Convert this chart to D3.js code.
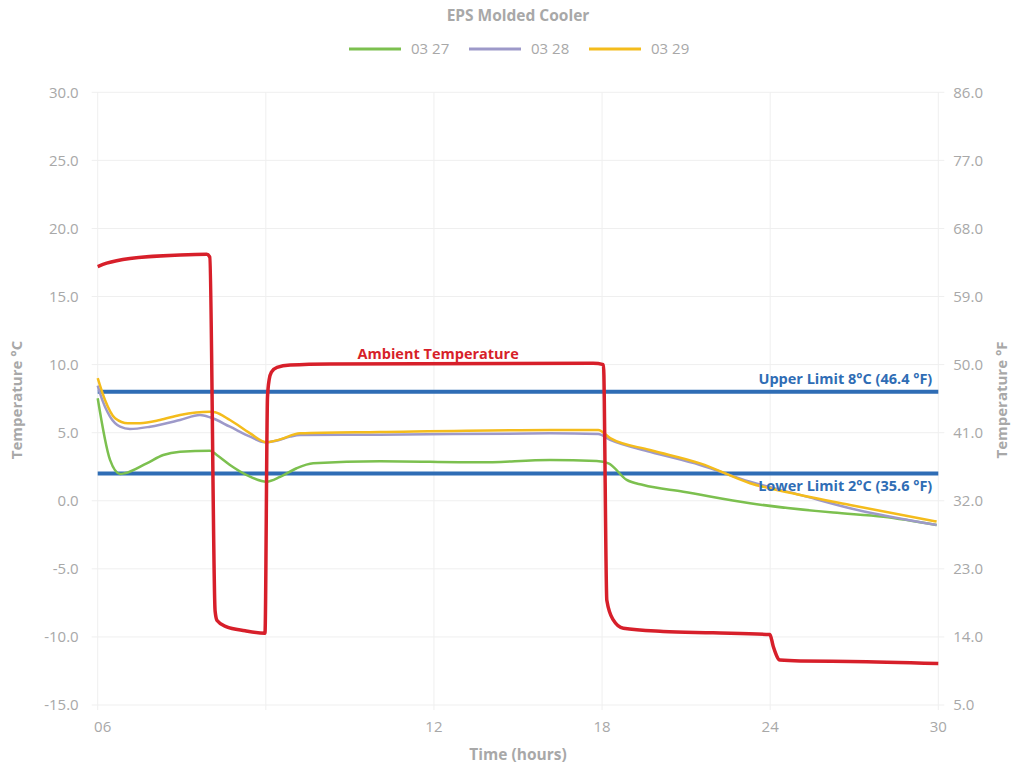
<!DOCTYPE html>
<html>
<head>
<meta charset="utf-8">
<script src="https://cdn.jsdelivr.net/npm/d3@7"></script>
<style>
  body { margin: 0; background: #fff; }
  svg text { font-family: "Open Sans", Lato, sans-serif; }
</style>
</head>
<body>
<div id="chart"></div>
<script>
// chart data: [hour offset, °C]
var seriesNames = ["03 27", "03 28", "03 29"];
var seriesColors = ["#7cc04f", "#9d99c9", "#f4bc1c"];

var day27 = [[0,7.53],[0.44,3.0],[0.80,1.97],[0.97,2.02],[1.75,2.75],[2.34,3.36],[2.94,3.6],[4.01,3.68],[4.25,3.36],[4.72,2.63],[5.32,1.89],[6.03,1.40],[6.51,1.75],[7.10,2.39],[7.69,2.75],[10.07,2.9],[13.64,2.82],[16.14,3.0],[17.81,2.92],[18.23,2.75],[18.88,1.53],[19.47,1.16],[20.90,0.67],[23.28,-0.18],[26.25,-0.87],[28.04,-1.17],[29.94,-1.78]];
var day28 = [[0,8.45],[0.08,7.9],[0.44,6.18],[0.80,5.44],[1.15,5.27],[1.87,5.44],[2.94,5.93],[3.65,6.3],[4.01,6.13],[4.72,5.44],[5.44,4.71],[5.97,4.30],[6.33,4.39],[6.87,4.71],[7.22,4.83],[10.07,4.85],[16.14,4.95],[17.86,4.9],[18.29,4.47],[19.71,3.6],[21.50,2.63],[23.28,1.40],[25.07,0.43],[26.85,-0.55],[29.94,-1.78]];
var day29 = [[0,9.0],[0.26,7.4],[0.62,6.06],[1.08,5.69],[1.51,5.7],[2.22,5.93],[2.94,6.3],[4.01,6.54],[4.19,6.5],[4.72,5.93],[5.44,4.95],[6.03,4.30],[6.51,4.51],[7.22,4.95],[10.07,5.05],[16.14,5.2],[17.86,5.2],[18.29,4.6],[19.71,3.73],[21.50,2.75],[23.28,1.29],[25.07,0.43],[26.85,-0.31],[29.94,-1.53]];
var ambient = [[0,17.2],[0.32,17.45],[1.15,17.8],[2.94,18.05],[3.89,18.1],[4.0,17.9],[4.19,-8.1],[4.26,-8.8],[4.58,-9.25],[5.26,-9.55],[5.97,-9.73],[6.06,7.6],[6.12,8.9],[6.2,9.45],[6.4,9.8],[6.87,9.97],[8.29,10.05],[17.68,10.1],[18.05,10.0],[18.17,-7.3],[18.40,-8.75],[18.76,-9.37],[20.18,-9.6],[21.96,-9.7],[23.99,-9.83],[24.11,-10.7],[24.35,-11.7],[25.07,-11.77],[26.85,-11.8],[30,-11.95]];

var xTicks = [0, 6, 12, 18, 24, 30];
var xTickLabels = ["06", "", "12", "18", "24", "30"];
var yTicks = [30, 25, 20, 15, 10, 5, 0, -5, -10, -15];
var limits = [8, 2];
var limitLabels = ["Upper Limit 8°C (46.4 °F)", "Lower Limit 2°C (35.6 °F)"];

(function(){
  var W = 1011, H = 764;
  var margin = {top: 92.3, right: 72.7, bottom: 59, left: 97.7},
      width = W - margin.left - margin.right,
      height = H - margin.top - margin.bottom;
  var grey = "#a8a8a8";

  var svg = d3.select("#chart").append("svg")
    .attr("width", W).attr("height", H);

  var g = svg.append("g")
    .attr("transform", "translate(" + margin.left + "," + margin.top + ")");

  var x = d3.scaleLinear().domain([0, 30]).range([0, width]);
  var y = d3.scaleLinear().domain([-15, 30]).range([height, 0]);

  // gridlines
  g.selectAll(".hgrid").data(yTicks).enter().append("line")
    .attr("x1", -6).attr("x2", width + 6)
    .attr("y1", d => y(d)).attr("y2", d => y(d))
    .attr("stroke", "#efefef").attr("stroke-width", 1);
  g.selectAll(".vgrid").data(xTicks).enter().append("line")
    .attr("x1", d => x(d)).attr("x2", d => x(d))
    .attr("y1", 0).attr("y2", height + 5)
    .attr("stroke", "#efefef").attr("stroke-width", 1);

  // left axis labels
  g.selectAll(".ylab").data(yTicks).enter().append("text")
    .attr("x", -19).attr("y", d => y(d)).attr("dy", "0.35em")
    .attr("text-anchor", "end").attr("fill", grey).style("font-size", "15px")
    .text(d => d.toFixed(1));
  // right axis labels (°F)
  g.selectAll(".flab").data(yTicks).enter().append("text")
    .attr("x", width + 15).attr("y", d => y(d)).attr("dy", "0.35em")
    .attr("text-anchor", "start").attr("fill", grey).style("font-size", "15px")
    .text(d => (d * 1.8 + 32).toFixed(1));
  // x labels
  g.selectAll(".xlab").data(xTicks).enter().append("text")
    .attr("x", (d, i) => x(d) + (i === 0 ? 5 : 0)).attr("y", height + 27)
    .attr("text-anchor", "middle").attr("fill", grey).style("font-size", "15px")
    .text((d, i) => xTickLabels[i]);

  // limit lines
  g.selectAll(".limit").data(limits).enter().append("line")
    .attr("x1", 0).attr("x2", width)
    .attr("y1", d => y(d)).attr("y2", d => y(d))
    .attr("stroke", "#2f6db5").attr("stroke-width", 4);

  var line = d3.line()
    .x(d => x(d[0])).y(d => y(d[1]))
    .curve(d3.curveMonotoneX);

  [day27, day28, day29].forEach(function(s, i){
    g.append("path").datum(s)
      .attr("d", line).attr("fill", "none")
      .attr("stroke", seriesColors[i]).attr("stroke-width", 2.5);
  });

  g.append("path").datum(ambient)
    .attr("d", line).attr("fill", "none")
    .attr("stroke", "#d71f2a").attr("stroke-width", 3.5)
    .attr("stroke-linejoin", "round");

  // annotations
  g.selectAll(".limlab").data(limits).enter().append("text")
    .attr("x", width - 6)
    .attr("y", (d, i) => i === 0 ? y(d) - 8 : y(d) + 17)
    .attr("text-anchor", "end").attr("fill", "#2f6db5")
    .style("font-size", "14.5px").style("font-weight", "bold")
    .text((d, i) => limitLabels[i]);

  g.append("text")
    .attr("x", x(12.15)).attr("y", y(10) - 6)
    .attr("text-anchor", "middle").attr("fill", "#d71f2a")
    .style("font-size", "14.5px").style("font-weight", "bold")
    .text("Ambient Temperature");

  // titles
  svg.append("text").attr("x", 518).attr("y", 21)
    .attr("text-anchor", "middle").attr("fill", grey)
    .style("font-size", "15.5px").style("font-weight", "bold")
    .text("EPS Molded Cooler");
  svg.append("text").attr("x", 518).attr("y", 760)
    .attr("text-anchor", "middle").attr("fill", grey)
    .style("font-size", "15.5px").style("font-weight", "bold")
    .text("Time (hours)");
  svg.append("text")
    .attr("transform", "translate(22,400) rotate(-90)")
    .attr("text-anchor", "middle").attr("fill", grey)
    .style("font-size", "15px").style("font-weight", "bold")
    .text("Temperature °C");
  svg.append("text")
    .attr("transform", "translate(1007,400) rotate(-90)")
    .attr("text-anchor", "middle").attr("fill", grey)
    .style("font-size", "15px").style("font-weight", "bold")
    .text("Temperature °F");

  // legend
  var legend = svg.append("g").attr("transform", "translate(349,49)");
  seriesNames.forEach(function(name, i){
    var lg = legend.append("g").attr("transform", "translate(" + (i * 120) + ",0)");
    lg.append("line").attr("x1", 0).attr("x2", 52).attr("y1", 0).attr("y2", 0)
      .attr("stroke", seriesColors[i]).attr("stroke-width", 3);
    lg.append("text").attr("x", 62).attr("y", 0).attr("dy", "0.35em")
      .attr("fill", grey).style("font-size", "15px").text(name);
  });
})();
</script>
</body>
</html>
